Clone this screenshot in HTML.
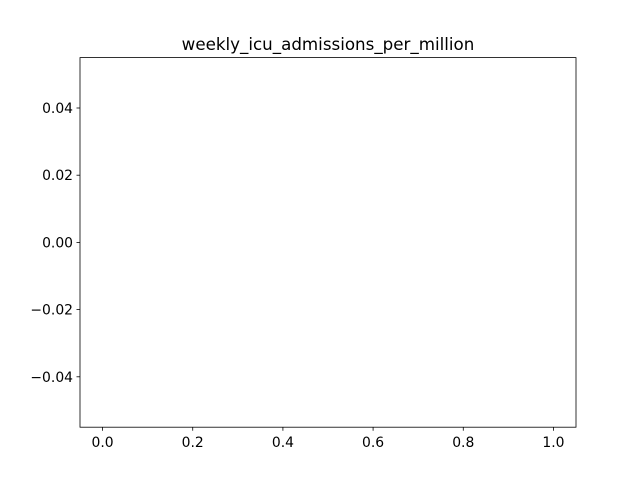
<!DOCTYPE html>
<html><head><meta charset="utf-8"><style>
html,body{margin:0;padding:0;background:#fff;}
svg{display:block;font-family:"DejaVu Sans","Liberation Sans",sans-serif;}
</style></head><body>
<svg id="chart" width="640" height="480" viewBox="0 0 640 480" xmlns="http://www.w3.org/2000/svg">
<rect width="640" height="480" fill="#fff"/>
<text x="328" y="50" text-anchor="middle" font-size="16.7" fill="#000">weekly_icu_admissions_per_million</text>
<g id="ticks"></g>
<rect x="80" y="57.6" width="496" height="369.6" fill="none" stroke="#000" stroke-width="0.8"/>
</svg>
<script>
const xTicks = [0.0, 0.2, 0.4, 0.6, 0.8, 1.0];
const xTickLabels = ["0.0", "0.2", "0.4", "0.6", "0.8", "1.0"];
const yTicks = [-0.04, -0.02, 0.00, 0.02, 0.04];
const yTickLabels = ["\u22120.04", "\u22120.02", "0.00", "0.02", "0.04"];
const xDomain = [-0.05, 1.05];
const yDomain = [-0.055, 0.055];
const L = 80, R = 576, T = 57.6, B = 427.2;
function xs(v){ return L + (v - xDomain[0]) / (xDomain[1] - xDomain[0]) * (R - L); }
function ys(v){ return B - (v - yDomain[0]) / (yDomain[1] - yDomain[0]) * (B - T); }
const g = document.getElementById('ticks');
const NS = 'http://www.w3.org/2000/svg';
xTicks.forEach((v, i) => {
  const x = xs(v);
  const ln = document.createElementNS(NS, 'line');
  ln.setAttribute('x1', x); ln.setAttribute('x2', x);
  ln.setAttribute('y1', B); ln.setAttribute('y2', B + 3.5);
  ln.setAttribute('stroke', '#000'); ln.setAttribute('stroke-width', '0.8');
  
  
  g.appendChild(ln);
  const t = document.createElementNS(NS, 'text');
  t.setAttribute('x', x); t.setAttribute('y', B + 20);
  t.setAttribute('text-anchor', 'middle'); t.setAttribute('font-size', '13.9');
  t.textContent = xTickLabels[i];
  
  
  g.appendChild(t);
});
yTicks.forEach((v, i) => {
  const y = ys(v);
  const ln = document.createElementNS(NS, 'line');
  ln.setAttribute('x1', L - 3.5); ln.setAttribute('x2', L);
  ln.setAttribute('y1', y); ln.setAttribute('y2', y);
  ln.setAttribute('stroke', '#000'); ln.setAttribute('stroke-width', '0.8');
  
  
  g.appendChild(ln);
  const t = document.createElementNS(NS, 'text');
  t.setAttribute('x', L - 7); t.setAttribute('y', y + 5);
  t.setAttribute('text-anchor', 'end'); t.setAttribute('font-size', '13.9');
  t.textContent = yTickLabels[i];
  
  
  g.appendChild(t);
});
</script>
</body></html>
